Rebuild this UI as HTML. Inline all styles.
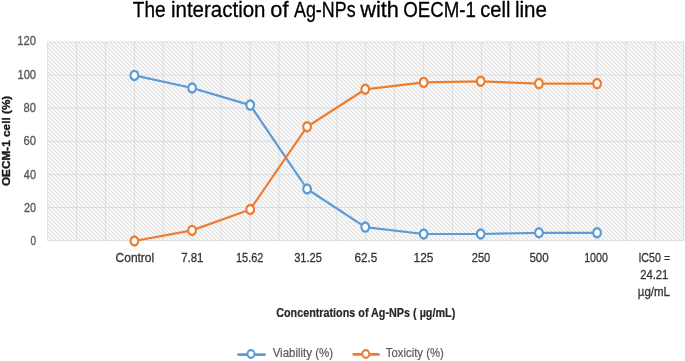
<!DOCTYPE html>
<html><head><meta charset="utf-8"><title>Chart</title><style>
html,body{margin:0;padding:0;background:#fff;overflow:hidden;}
svg{display:block;}
text{font-family:"Liberation Sans",sans-serif;}
</style></head><body>
<svg width="685" height="361" viewBox="0 0 685 361">
<defs>
<pattern id="hatch" patternUnits="userSpaceOnUse" x="0" y="0" width="4" height="4"><rect x="0" y="0" width="1" height="1" fill="#e3e3e3"/><rect x="1" y="0" width="1" height="1" fill="#f1f1f1"/><rect x="2" y="0" width="1" height="1" fill="#fefefe"/><rect x="3" y="0" width="1" height="1" fill="#f1f1f1"/><rect x="0" y="1" width="1" height="1" fill="#f1f1f1"/><rect x="1" y="1" width="1" height="1" fill="#e3e3e3"/><rect x="2" y="1" width="1" height="1" fill="#f1f1f1"/><rect x="3" y="1" width="1" height="1" fill="#fefefe"/><rect x="0" y="2" width="1" height="1" fill="#fefefe"/><rect x="1" y="2" width="1" height="1" fill="#f1f1f1"/><rect x="2" y="2" width="1" height="1" fill="#e3e3e3"/><rect x="3" y="2" width="1" height="1" fill="#f1f1f1"/><rect x="0" y="3" width="1" height="1" fill="#f1f1f1"/><rect x="1" y="3" width="1" height="1" fill="#fefefe"/><rect x="2" y="3" width="1" height="1" fill="#f1f1f1"/><rect x="3" y="3" width="1" height="1" fill="#e3e3e3"/></pattern><filter id="b" x="-5%" y="-5%" width="110%" height="110%"><feGaussianBlur stdDeviation="0.35"/></filter>
</defs>
<rect x="0" y="0" width="685" height="361" fill="#fff"/>

<rect x="47.65" y="42.00" width="636.15" height="198.60" fill="url(#hatch)"/>
<g filter="url(#b)">
<path d="M76.57 42.00V240.60M105.48 42.00V240.60M134.40 42.00V240.60M163.31 42.00V240.60M192.23 42.00V240.60M221.15 42.00V240.60M250.06 42.00V240.60M278.98 42.00V240.60M307.89 42.00V240.60M336.81 42.00V240.60M365.72 42.00V240.60M394.64 42.00V240.60M423.56 42.00V240.60M452.47 42.00V240.60M481.39 42.00V240.60M510.30 42.00V240.60M539.22 42.00V240.60M568.14 42.00V240.60M597.05 42.00V240.60M625.97 42.00V240.60M654.88 42.00V240.60M47.65 207.50H683.80M47.65 174.40H683.80M47.65 141.30H683.80M47.65 108.20H683.80M47.65 75.10H683.80" stroke="#dddddd" stroke-width="1" fill="none"/>
<rect x="47.65" y="42.00" width="636.15" height="198.60" fill="none" stroke="#dddddd" stroke-width="1"/>
<path d="M134.40 75.40 L192.10 88.00 L250.20 105.10 L307.10 189.00 L365.25 227.10 L423.65 234.00 L480.70 234.00 L538.95 232.80 L597.05 232.80" stroke="#5B9BD5" stroke-width="2.2" fill="none" stroke-linejoin="round" stroke-linecap="round"/>
<circle r="3.85" transform="translate(134.40,75.40) scale(1,1.17)" fill="#fff" stroke="#5B9BD5" stroke-width="2.1"/>
<circle r="3.85" transform="translate(192.10,88.00) scale(1,1.17)" fill="#fff" stroke="#5B9BD5" stroke-width="2.1"/>
<circle r="3.85" transform="translate(250.20,105.10) scale(1,1.17)" fill="#fff" stroke="#5B9BD5" stroke-width="2.1"/>
<circle r="3.85" transform="translate(307.10,189.00) scale(1,1.17)" fill="#fff" stroke="#5B9BD5" stroke-width="2.1"/>
<circle r="3.85" transform="translate(365.25,227.10) scale(1,1.17)" fill="#fff" stroke="#5B9BD5" stroke-width="2.1"/>
<circle r="3.85" transform="translate(423.65,234.00) scale(1,1.17)" fill="#fff" stroke="#5B9BD5" stroke-width="2.1"/>
<circle r="3.85" transform="translate(480.70,234.00) scale(1,1.17)" fill="#fff" stroke="#5B9BD5" stroke-width="2.1"/>
<circle r="3.85" transform="translate(538.95,232.80) scale(1,1.17)" fill="#fff" stroke="#5B9BD5" stroke-width="2.1"/>
<circle r="3.85" transform="translate(597.05,232.80) scale(1,1.17)" fill="#fff" stroke="#5B9BD5" stroke-width="2.1"/>
<path d="M134.40 241.00 L192.10 230.40 L250.20 209.50 L307.10 126.70 L365.25 89.30 L423.65 82.40 L480.70 81.30 L538.95 83.60 L597.05 83.60" stroke="#ED7D31" stroke-width="2.2" fill="none" stroke-linejoin="round" stroke-linecap="round"/>
<circle r="3.85" transform="translate(134.40,241.00) scale(1,1.17)" fill="#fff" stroke="#ED7D31" stroke-width="2.1"/>
<circle r="3.85" transform="translate(192.10,230.40) scale(1,1.17)" fill="#fff" stroke="#ED7D31" stroke-width="2.1"/>
<circle r="3.85" transform="translate(250.20,209.50) scale(1,1.17)" fill="#fff" stroke="#ED7D31" stroke-width="2.1"/>
<circle r="3.85" transform="translate(307.10,126.70) scale(1,1.17)" fill="#fff" stroke="#ED7D31" stroke-width="2.1"/>
<circle r="3.85" transform="translate(365.25,89.30) scale(1,1.17)" fill="#fff" stroke="#ED7D31" stroke-width="2.1"/>
<circle r="3.85" transform="translate(423.65,82.40) scale(1,1.17)" fill="#fff" stroke="#ED7D31" stroke-width="2.1"/>
<circle r="3.85" transform="translate(480.70,81.30) scale(1,1.17)" fill="#fff" stroke="#ED7D31" stroke-width="2.1"/>
<circle r="3.85" transform="translate(538.95,83.60) scale(1,1.17)" fill="#fff" stroke="#ED7D31" stroke-width="2.1"/>
<circle r="3.85" transform="translate(597.05,83.60) scale(1,1.17)" fill="#fff" stroke="#ED7D31" stroke-width="2.1"/>
<text x="132.87" y="16.55" font-size="22.38" fill="#000" textLength="32.77" lengthAdjust="spacingAndGlyphs" stroke="#000" stroke-width="0.30">The</text>
<text x="170.93" y="16.55" font-size="22.38" fill="#000" textLength="94.60" lengthAdjust="spacingAndGlyphs" stroke="#000" stroke-width="0.30">interaction</text>
<text x="270.28" y="16.55" font-size="22.38" fill="#000" textLength="18.18" lengthAdjust="spacingAndGlyphs" stroke="#000" stroke-width="0.30">of</text>
<text x="293.97" y="16.55" font-size="22.38" fill="#000" textLength="61.68" lengthAdjust="spacingAndGlyphs" stroke="#000" stroke-width="0.30">Ag-NPs</text>
<text x="360.23" y="16.55" font-size="22.38" fill="#000" textLength="38.68" lengthAdjust="spacingAndGlyphs" stroke="#000" stroke-width="0.30">with</text>
<text x="403.21" y="16.55" font-size="22.38" fill="#000" textLength="72.80" lengthAdjust="spacingAndGlyphs" stroke="#000" stroke-width="0.30">OECM-1</text>
<text x="480.35" y="16.55" font-size="22.38" fill="#000" textLength="30.09" lengthAdjust="spacingAndGlyphs" stroke="#000" stroke-width="0.30">cell</text>
<text x="514.91" y="16.55" font-size="22.38" fill="#000" textLength="32.00" lengthAdjust="spacingAndGlyphs" stroke="#000" stroke-width="0.30">line</text>
<text x="17.35" y="45.40" font-size="13.08" fill="#595959" textLength="18.69" lengthAdjust="spacingAndGlyphs" stroke="#595959" stroke-width="0.35">120</text>
<text x="17.45" y="78.80" font-size="13.08" fill="#595959" textLength="18.58" lengthAdjust="spacingAndGlyphs" stroke="#595959" stroke-width="0.35">100</text>
<text x="23.61" y="112.00" font-size="13.08" fill="#595959" textLength="12.42" lengthAdjust="spacingAndGlyphs" stroke="#595959" stroke-width="0.35">80</text>
<text x="23.53" y="145.30" font-size="13.08" fill="#595959" textLength="12.51" lengthAdjust="spacingAndGlyphs" stroke="#595959" stroke-width="0.35">60</text>
<text x="23.85" y="178.90" font-size="13.08" fill="#595959" textLength="12.18" lengthAdjust="spacingAndGlyphs" stroke="#595959" stroke-width="0.35">40</text>
<text x="23.95" y="211.90" font-size="13.08" fill="#595959" textLength="12.07" lengthAdjust="spacingAndGlyphs" stroke="#595959" stroke-width="0.35">20</text>
<text x="30.41" y="245.00" font-size="13.08" fill="#595959" textLength="5.58" lengthAdjust="spacingAndGlyphs" stroke="#595959" stroke-width="0.35">0</text>
<text x="115.59" y="261.80" font-size="13.52" fill="#333" textLength="38.61" lengthAdjust="spacingAndGlyphs" stroke="#333" stroke-width="0.30">Control</text>
<text x="181.21" y="261.80" font-size="13.52" fill="#333" textLength="22.24" lengthAdjust="spacingAndGlyphs" stroke="#333" stroke-width="0.30">7.81</text>
<text x="235.97" y="261.80" font-size="13.52" fill="#333" textLength="27.38" lengthAdjust="spacingAndGlyphs" stroke="#333" stroke-width="0.30">15.62</text>
<text x="294.18" y="261.80" font-size="13.52" fill="#333" textLength="27.79" lengthAdjust="spacingAndGlyphs" stroke="#333" stroke-width="0.30">31.25</text>
<text x="354.41" y="261.80" font-size="13.52" fill="#333" textLength="22.79" lengthAdjust="spacingAndGlyphs" stroke="#333" stroke-width="0.30">62.5</text>
<text x="413.60" y="261.80" font-size="13.52" fill="#333" textLength="19.80" lengthAdjust="spacingAndGlyphs" stroke="#333" stroke-width="0.30">125</text>
<text x="471.74" y="261.80" font-size="13.52" fill="#333" textLength="18.49" lengthAdjust="spacingAndGlyphs" stroke="#333" stroke-width="0.30">250</text>
<text x="529.44" y="261.80" font-size="13.52" fill="#333" textLength="19.32" lengthAdjust="spacingAndGlyphs" stroke="#333" stroke-width="0.30">500</text>
<text x="584.19" y="261.80" font-size="13.52" fill="#333" textLength="23.62" lengthAdjust="spacingAndGlyphs" stroke="#333" stroke-width="0.30">1000</text>
<text x="638.42" y="262.10" font-size="13.23" fill="#333" textLength="31.71" lengthAdjust="spacingAndGlyphs" stroke="#333" stroke-width="0.30">IC50 =</text>
<text x="640.23" y="279.30" font-size="13.23" fill="#333" textLength="28.11" lengthAdjust="spacingAndGlyphs" stroke="#333" stroke-width="0.30">24.21</text>
<text x="637.81" y="295.70" font-size="13.23" fill="#333" textLength="32.17" lengthAdjust="spacingAndGlyphs" stroke="#333" stroke-width="0.30">µg/mL</text>
<text x="276.16" y="317.10" font-size="13.37" font-weight="bold" fill="#262626" textLength="179.08" lengthAdjust="spacingAndGlyphs" stroke="#262626" stroke-width="0.20">Concentrations of Ag-NPs ( µg/mL)</text>
<g transform="translate(9.9,0) rotate(-90)"><text x="-186.08" y="0.00" font-size="11.48" font-weight="bold" fill="#1a1a1a" textLength="90.37" lengthAdjust="spacingAndGlyphs" stroke="#1a1a1a" stroke-width="0.35">OECM-1 cell (%)</text></g>
<path d="M238.5 354.6H264.6" stroke="#5B9BD5" stroke-width="2.6" stroke-linecap="round"/>
<circle r="3.5" transform="translate(251,354) scale(1,1.12)" fill="#fff" stroke="#5B9BD5" stroke-width="2"/>
<text x="272.65" y="357.20" font-size="13.37" fill="#595959" textLength="60.46" lengthAdjust="spacingAndGlyphs" stroke="#595959" stroke-width="0.20">Viability (%)</text>
<path d="M353.7 354.4H378.6" stroke="#ED7D31" stroke-width="2.6" stroke-linecap="round"/>
<circle r="3.5" transform="translate(365.8,354) scale(1,1.12)" fill="#fff" stroke="#ED7D31" stroke-width="2"/>
<text x="385.85" y="357.10" font-size="13.37" fill="#595959" textLength="57.94" lengthAdjust="spacingAndGlyphs" stroke="#595959" stroke-width="0.20">Toxicity (%)</text>
</g>
</svg>
</body></html>
